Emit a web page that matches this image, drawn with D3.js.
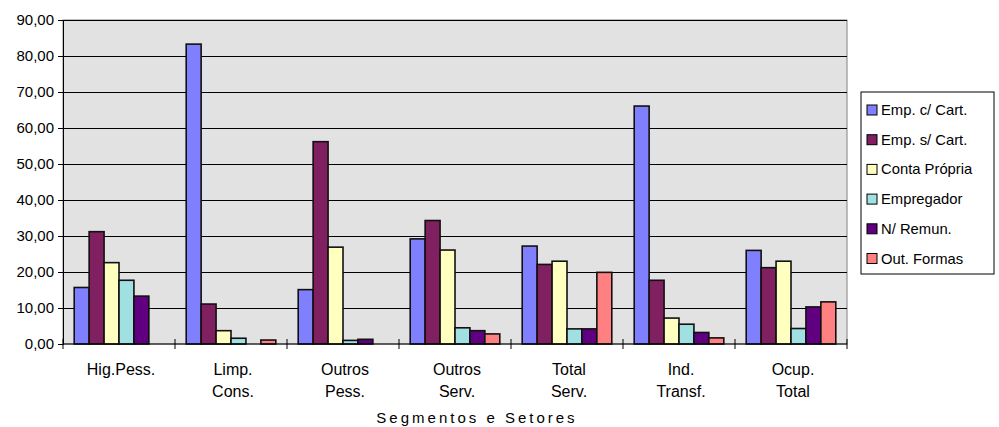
<!DOCTYPE html>
<html>
<head>
<meta charset="utf-8">
<script src="https://cdn.jsdelivr.net/npm/d3@7"></script>
<style>
  body { margin: 0; background: #fff; }
  svg { display: block; font-family: "Liberation Sans", Arial, sans-serif; }
</style>
</head>
<body>
<div id="chart"></div>
<script>
// categories (line breaks at spaces)
const categories = ["Hig.Pess.", "Limp. Cons.", "Outros Pess.", "Outros Serv.", "Total Serv.", "Ind. Transf.", "Ocup. Total"];
const seriesNames = ["Emp. c/ Cart.", "Emp. s/ Cart.", "Conta Própria", "Empregador", "N/ Remun.", "Out. Formas"];
const empCCart     = [15.7, 83.3, 15.1, 29.2, 27.2, 66.1, 26.0];
const empSCart     = [31.2, 11.1, 56.2, 34.3, 22.1, 17.7, 21.2];
const contaPropria = [22.6, 3.7, 26.9, 26.1, 23.0, 7.2, 23.0];
const empregador   = [17.7, 1.6, 1.0, 4.5, 4.2, 5.5, 4.3];
const nRemun       = [13.3, 0, 1.3, 3.7, 4.2, 3.2, 10.3];
const outFormas    = [0, 1.1, 0, 2.8, 19.9, 1.7, 11.7];
const yTicks = [0, 10, 20, 30, 40, 50, 60, 70, 80, 90];

const colors = ["#8080ff", "#802060", "#ffffc0", "#a0e0e0", "#600080", "#ff8080"];
const allSeries = [empCCart, empSCart, contaPropria, empregador, nRemun, outFormas];

const width = 999, height = 427;
const margin = {top: 20, right: 152, bottom: 83, left: 63};

const svg = d3.select("#chart").append("svg")
  .attr("width", width).attr("height", height);

const x0 = d3.scaleBand()
  .domain(categories)
  .range([margin.left, width - margin.right]);

const x1 = d3.scaleBand()
  .domain(seriesNames)
  .range([0, x0.bandwidth()])
  .paddingOuter(0.75);

const y = d3.scaleLinear()
  .domain([0, 90])
  .range([height - margin.bottom, margin.top]);

// plot background
svg.append("rect")
  .attr("x", margin.left).attr("y", margin.top)
  .attr("width", width - margin.right - margin.left)
  .attr("height", height - margin.bottom - margin.top)
  .attr("fill", "#e2e2e2")
  .attr("stroke", "#808080");

// gridlines
svg.append("g")
  .selectAll("line")
  .data(yTicks.slice(1))
  .join("line")
  .attr("x1", margin.left).attr("x2", width - margin.right)
  .attr("y1", d => Math.round(y(d)) + 0.5).attr("y2", d => Math.round(y(d)) + 0.5)
  .attr("stroke", "#000");

// bars
const groups = svg.append("g")
  .selectAll("g")
  .data(categories)
  .join("g")
  .attr("transform", d => `translate(${x0(d)},0)`);

groups.selectAll("rect")
  .data((c, i) => seriesNames.map((s, j) => ({s, j, v: allSeries[j][i]})).filter(d => d.v > 0))
  .join("rect")
  .attr("x", d => x1(d.s))
  .attr("y", d => y(d.v))
  .attr("width", x1.bandwidth())
  .attr("height", d => y(0) - y(d.v))
  .attr("fill", d => colors[d.j])
  .attr("stroke", "#111")
  .attr("stroke-width", 1.6);

// y axis
const yAxis = svg.append("g")
  .attr("transform", `translate(${margin.left},0)`)
  .call(d3.axisLeft(y).tickValues(yTicks).tickSize(5).tickPadding(4)
    .tickFormat(d => d3.format(".2f")(d).replace(".", ",")));
yAxis.select(".domain").attr("stroke", "#000");
yAxis.selectAll("text").attr("font-size", 15).attr("fill", "#000")
  .attr("font-family", "'Liberation Sans', Arial, sans-serif");

// x axis
const xAxis = svg.append("g")
  .attr("transform", `translate(0,${y(0)})`);
xAxis.append("line")
  .attr("x1", margin.left).attr("x2", width - margin.right)
  .attr("stroke", "#000");
xAxis.selectAll("line.tick")
  .data(categories.map(c => x0(c)).concat([width - margin.right]))
  .join("line")
  .attr("class", "tick")
  .attr("x1", d => d).attr("x2", d => d)
  .attr("y1", -5).attr("y2", 5)
  .attr("stroke", "#000");

xAxis.selectAll("text")
  .data(categories)
  .join("text")
  .attr("x", d => x0(d) + x0.bandwidth() / 2 + 2)
  .attr("y", 31)
  .attr("text-anchor", "middle")
  .attr("font-size", 16)
  .selectAll("tspan")
  .data(d => d.split(" "))
  .join("tspan")
  .attr("x", function() { return this.parentNode.getAttribute("x"); })
  .attr("dy", (d, i) => i === 0 ? 0 : 22)
  .text(d => d);

svg.append("text")
  .attr("x", 477)
  .attr("y", 423)
  .attr("text-anchor", "middle")
  .attr("font-size", 15)
  .attr("letter-spacing", 3)
  .text("Segmentos e Setores");

// legend
const legend = svg.append("g").attr("transform", "translate(861,92)");
legend.append("rect")
  .attr("width", 133).attr("height", 182)
  .attr("fill", "#fff").attr("stroke", "#000");

const li = legend.selectAll("g.item")
  .data(seriesNames)
  .join("g")
  .attr("class", "item")
  .attr("transform", (d, i) => `translate(6,${18 + i * 29.7})`);

li.append("rect")
  .attr("x", 0).attr("y", -5)
  .attr("width", 10).attr("height", 10)
  .attr("fill", (d, i) => colors[i])
  .attr("stroke", "#000");

li.append("text")
  .attr("x", 14).attr("y", 5)
  .attr("font-size", 14.8)
  .text(d => d);
</script>
</body>
</html>
